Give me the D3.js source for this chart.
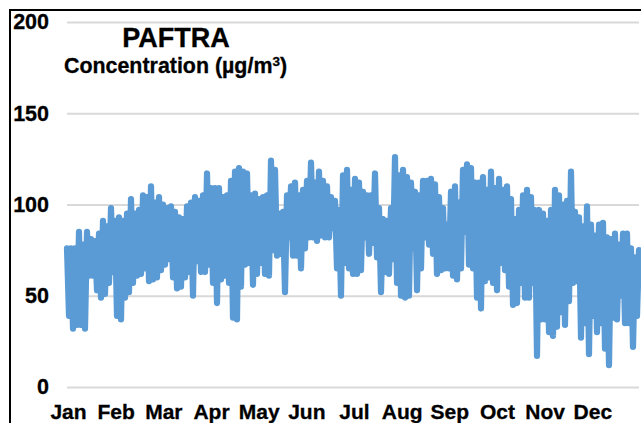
<!DOCTYPE html>
<html>
<head>
<meta charset="utf-8">
<script src="https://cdnjs.cloudflare.com/ajax/libs/d3/7.8.5/d3.min.js"></script>
<style>
html,body{margin:0;padding:0;background:#fff;overflow:hidden}
svg{display:block}
text{font-family:"Liberation Sans",Arial,sans-serif;font-weight:bold;fill:#000;stroke:#000;stroke-width:.3px}
</style>
</head>
<body>
<script>
const months = ["Jan","Feb","Mar","Apr","May","Jun","Jul","Aug","Sep","Oct","Nov","Dec"];
const yTicks = [0,50,100,150,200];
const chartTitle = "PAFTRA";
const unitLabel = "Concentration (µg/m";

// Alternating highs and lows of the series (µg/m3)
const highs = [76,76,76,85,78,85,81,80,84,91,88,98,91,93,91,95,103,95,97,105,104,110,101,104,100,98,99,96,93,92,99,101,104,102,105,117,109,109,109,104,105,113,118,120,118,117,105,106,103,104,105,124,119,95,96,105,110,112,105,108,113,123,112,118,113,110,104,102,97,116,119,108,114,112,107,105,105,117,98,92,91,98,126,116,119,115,112,107,105,113,113,114,111,104,98,89,107,110,101,119,122,120,112,112,115,108,118,109,114,108,110,103,92,97,105,108,104,97,97,95,91,97,108,105,100,102,118,96,93,88,99,89,83,89,90,82,81,84,78,84,84,76,71,75];
const lows = [39,32,34,34,32,61,61,53,49,51,57,63,39,37,49,52,57,61,62,65,58,59,60,64,67,70,60,54,55,60,63,50,69,63,63,67,57,46,59,61,57,38,37,55,67,68,56,62,68,62,61,75,72,73,52,82,72,72,65,76,82,82,80,83,82,82,87,65,50,68,65,62,62,64,82,73,79,71,52,63,62,70,57,50,49,50,76,53,65,82,78,73,62,64,65,65,61,59,65,85,67,65,49,43,58,60,57,53,68,64,55,45,46,57,49,49,57,17,37,37,30,28,33,41,34,47,57,58,27,35,18,39,30,35,21,12,38,37,50,35,35,22,39];

const W = 641, H = 423;
const plot = {left:67, right:639, top:22, bottom:387};

const series = [];
highs.forEach((h,i)=>{ series.push(h); if(i<lows.length) series.push(lows[i]); });

const svg = d3.select("body").append("svg").attr("width",W).attr("height",H);

const y = d3.scaleLinear().domain([0,200]).range([plot.bottom,plot.top]);
const xi = d3.scaleLinear().domain([0,series.length-1]).range([plot.left,plot.right]);
const xm = d3.scalePoint().domain(months).range([plot.left+1, plot.left+1+(plot.right-plot.left)*11/12]);

// frame (open to the right and the bottom, as it is cut by the picture)
svg.append("path")
  .attr("d",`M10,${H+2}V10H${W+2}`)
  .attr("fill","none").attr("stroke","#000").attr("stroke-width",2);

// y axis + gridlines
const ya = svg.append("g").attr("transform",`translate(${plot.left},0)`)
  .call(d3.axisLeft(y).tickValues(yTicks).tickSize(-(plot.right-plot.left)).tickPadding(18));
ya.select(".domain").remove();
ya.selectAll("line").attr("stroke","#D9D9D9").attr("stroke-width",2);
ya.selectAll("text").style("font-size","21.5px").attr("fill","#000");

// series
svg.append("path").datum(series)
  .attr("d",d3.line().x((d,i)=>xi(i)).y(d=>y(d)))
  .attr("fill","none").attr("stroke","#5B9BD5").attr("stroke-width",6.2)
  .attr("stroke-linejoin","round").attr("stroke-linecap","round");

// x axis
const xa = svg.append("g").attr("transform",`translate(0,${plot.bottom})`)
  .call(d3.axisBottom(xm).tickSize(0).tickPadding(17));
xa.select(".domain").remove();
xa.selectAll("line").remove();
xa.selectAll("text").style("font-size","21px").attr("fill","#000");

// titles
svg.append("text").attr("x",176).attr("y",47).attr("text-anchor","middle")
  .style("font-size","27px").text(chartTitle);
const sub = svg.append("text").attr("x",64).attr("y",72.5).style("font-size","21.4px");
sub.append("tspan").text(unitLabel);
sub.append("tspan").attr("dy",-7).style("font-size","13.5px").text("3");
sub.append("tspan").attr("dy",7).text(")");
</script>
</body>
</html>
